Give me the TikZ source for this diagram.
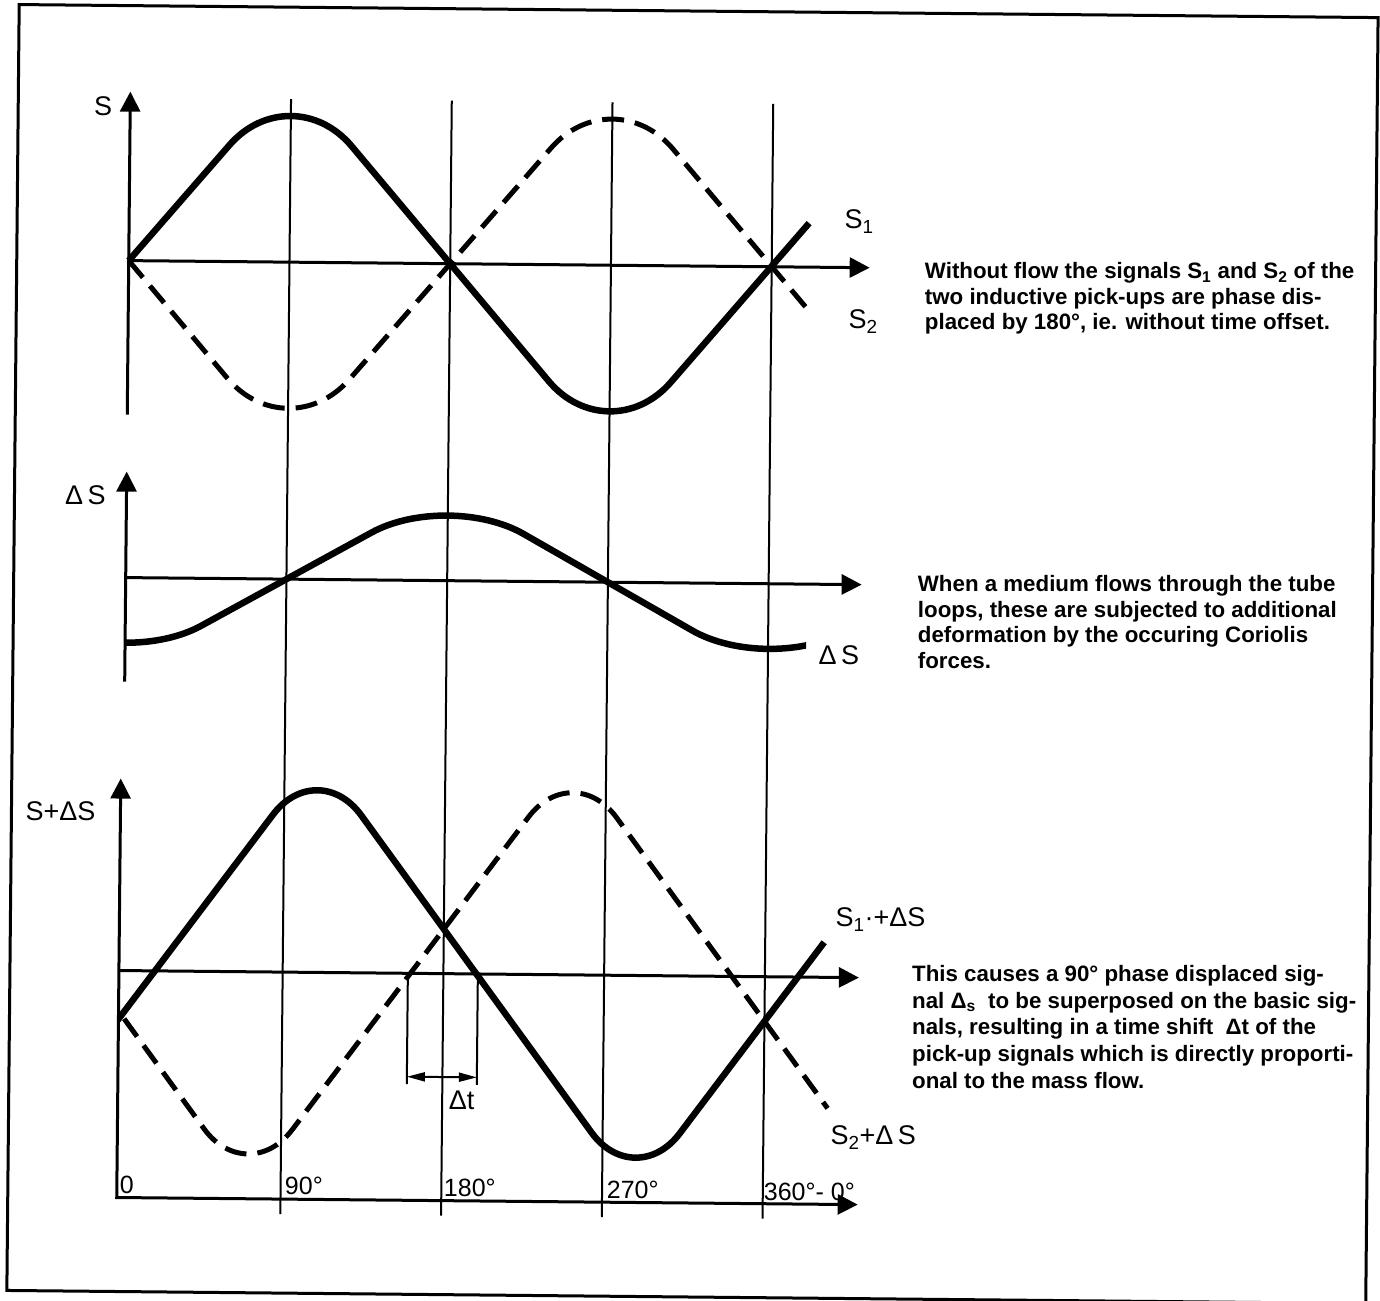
\documentclass[tikz,border=0pt]{standalone}
\usepackage{fontspec}
\setmainfont{Liberation Sans}
\usetikzlibrary{arrows.meta}

\begin{document}
\begin{tikzpicture}[x=1pt, y=-1pt,
    axis/.style={line width=3pt, -{Triangle[length=20pt, width=20pt]}},
    gridline/.style={line width=2pt},
    sig/.style={line width=6.5pt},
    sigdash/.style={line width=5pt, dash pattern=on 22pt off 11pt},
    lbl/.style={font=\fontsize{27}{30}\selectfont, inner sep=0pt},
    deg/.style={font=\fontsize{25}{28}\selectfont, inner sep=0pt, anchor=south west},
    note/.style={font=\fontsize{22.3}{25.5}\selectfont\bfseries, align=left,
        anchor=north west, inner sep=0pt}]
    \useasboundingbox (0,0) rectangle (1380,1300);
    \begin{scope}[rotate around={-0.55:(690,650)}]
    % outer frame
    \draw[line width=3pt] (13,11) rectangle (1372,1297);

    % phase lines at 90, 180, 270 and 360 degrees
    \foreach \x in {285.75, 446.5, 607.25, 768}
        \draw[gridline] (\x,103) -- (\x,1218);

    % top: S1 and S2 without flow
    \draw[axis] (125,420) -- (125,97);
    \draw[axis] (125,266) -- (866,266);
    \draw[sigdash, rounded corners=94pt] (125,266) -- (285.75,454) -- (607.25,78) -- (805,309);
    \draw[sig, rounded corners=94pt] (125,266) -- (285.75,78) -- (607.25,454) -- (805,222);
    \node[lbl] (lblS) at (98,112) {S};
    \node[lbl] (lblSa) at (855,220) {S\textsubscript{1}};
    \node[lbl] (lblSb) at (860,320) {S\textsubscript{2}};
    \node[note] (noteA) at (921,260) {Without flow the signals S\textsubscript{1} and S\textsubscript{2} of the\\
        two inductive pick-ups are phase dis-\\
        placed by 180°, ie. without time offset.};

    % middle: Coriolis part
    \draw[axis] (125,687) -- (125,477);
    \draw[axis] (125,583) -- (861,583);
    \begin{scope}
        \clip (125,400) rectangle (806,800);
        \draw[sig, rounded corners=87pt] (-35.75,583) -- (125,673) -- (446.5,493) -- (768,673) -- (929,583);
    \end{scope}
    \node[lbl] (lblDS) at (84,501) {Δ\,S};
    \node[lbl] (lblDSr) at (839,654) {Δ\,S};
    \node[note] (noteB) at (917,573) {When a medium flows through the tube\\
        loops, these are subjected to additional\\
        deformation by the occuring Coriolis\\
        forces.};

    % bottom: sum signals
    \draw[line width=3pt, {Triangle[length=20pt, width=20pt]}-{Triangle[length=20pt, width=20pt]}]
        (122,784) -- (122,1203) -- (863,1203);
    \draw[axis] (122,976) -- (862,976);
    \begin{scope}
        \clip (122,700) rectangle (1000,1250);
        \draw[sigdash, rounded corners=74pt] (-68.75,759) -- (252.75,1193) -- (574.25,759) -- (832,1107);
        \draw[sig, rounded corners=74pt] (-2.75,1193) -- (318.75,759) -- (640.25,1193) -- (827,941);
    \end{scope}
    \node[lbl] (lblSDS) at (62,817) {S+ΔS};
    \node[lbl, anchor=west] (lblSaDS) at (838,918) {S\textsubscript{1}·+ΔS};
    \node[lbl, anchor=west] (lblSbDS) at (835,1136) {S\textsubscript{2}+Δ\,S};

    % time shift
    \coordinate (dtA) at (411,976);
    \coordinate (dtB) at (481,976);
    \coordinate (dtL) at (411,1079.5);
    \coordinate (dtR) at (481,1079.5);
    \draw[gridline] (dtA) -- ++(0,111);
    \draw[gridline] (dtB) -- ++(0,111);
    \draw[gridline, {Triangle[length=18pt, width=9pt]}-{Triangle[length=18pt, width=9pt]}] (dtL) -- (dtR);
    \node[lbl] (lblDt) at (466,1102) {Δt};

    % degree marks
    \node[deg] (deg0) at (125,1199) {0};
    \node[deg] (deg90) at (290,1199) {90°};
    \node[deg] (deg180) at (449,1199) {180°};
    \node[deg] (deg270) at (612,1200) {270°};
    \node[deg] (deg360) at (769,1200) {360°- 0°};

    \node[note, font=\fontsize{22.3}{26.7}\selectfont\bfseries] (noteC) at (915,963)
        {This causes a 90° phase displaced sig-\\
        nal Δ\textsubscript{s}\ \ to be superposed on the basic sig-\\
        nals, resulting in a time shift\ \ Δt of the\\
        pick-up signals which is directly proporti-\\
        onal to the mass flow.};
    \end{scope}
\end{tikzpicture}
\end{document}
